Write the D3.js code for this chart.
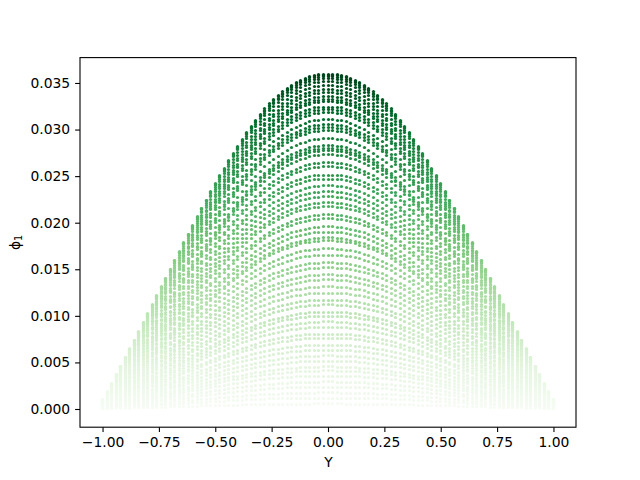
<!DOCTYPE html>
<html>
<head>
<meta charset="utf-8">
<script src="https://cdn.jsdelivr.net/npm/d3@7"></script>
<style>
html,body{margin:0;padding:0;background:#fff}
svg{display:block}
text{font-family:"DejaVu Sans",sans-serif;fill:#000}
</style>
</head>
<body>
<svg id="c" width="640" height="480"></svg>
<script>
// Height of the uppermost point in each column, Y = -1.00 to 0.00 in steps of 0.02 (mirrored for Y > 0)
const topOfColumn = [
0.00102,0.00184,0.00274,0.00370,0.00460,0.00556,0.00645,0.00739,0.00828,0.00929,
0.01021,0.01120,0.01214,0.01311,0.01404,0.01501,0.01598,0.01691,0.01788,0.01877,
0.01970,0.02063,0.02156,0.02242,0.02331,0.02417,0.02503,0.02585,0.02664,0.02746,
0.02822,0.02897,0.02969,0.03036,0.03101,0.03165,0.03222,0.03276,0.03323,0.03366,
0.03405,0.03444,0.03477,0.03506,0.03530,0.03552,0.03570,0.03584,0.03591,0.03595,
0.03595];
// Values of the rows of points read along the centre column, Y = 0
const centreRows = [
0.03595,0.03581,0.03565,0.03543,0.03511,0.03468,0.03425,0.03393,0.03350,0.03318,
0.03296,0.03242,0.03210,0.03178,0.03103,0.03049,0.03017,0.02985,0.02899,0.02824,
0.02792,0.02770,0.02727,0.02641,0.02598,0.02512,0.02469,0.02394,0.02330,0.02276,
0.02212,0.02169,0.02083,0.02040,0.01954,0.01900,0.01836,0.01804,0.01718,0.01653,
0.01568,0.01514,0.01439,0.01385,0.01310,0.01245,0.01170,0.01117,0.01041,0.00998,
0.00934,0.00880,0.00805,0.00762,0.00687,0.00633,0.00569,0.00515,0.00451,0.00408,
0.00354,0.00290,0.00236,0.00172,0.00118,0.00054];
const xTicks = [-1,-0.75,-0.5,-0.25,0,0.25,0.5,0.75,1];
const yTicks = [0,0.005,0.01,0.015,0.02,0.025,0.03,0.035];
const greens = ["#f7fcf5","#e5f5e0","#c7e9c0","#a1d99b","#74c476","#41ab5d","#238b45","#006d2c","#00441b"];

const fullColumns = topOfColumn.concat(topOfColumn.slice(0,-1).reverse());
const peak = d3.max(topOfColumn);
const points = [];
centreRows.slice().reverse().forEach(row => {
  fullColumns.forEach((t,i) => {
    points.push({y:-1+i*0.02, phi:t*row/peak});
  });
});

const L=80,R=576,T=57.6,B=427.2;
const x=d3.scaleLinear().domain([-1.1,1.1]).range([L,R]);
const yMin=-0.00015,yMax=0.03592,pad=(yMax-yMin)*0.05;
const y=d3.scaleLinear().domain([yMin-pad,yMax+pad]).range([B,T]);
const color=d3.scaleLinear()
  .domain(greens.map((_,i)=>peak*i/(greens.length-1)))
  .range(greens).clamp(true);
const snap=v=>Math.floor(v)+0.5;

const svg=d3.select("#c");
svg.append("g").selectAll("circle").data(points).join("circle")
  .attr("cx",d=>snap(x(d.y))).attr("cy",d=>snap(y(d.phi))).attr("r",1.6)
  .attr("fill",d=>color(d.phi));

svg.append("rect").attr("x",L).attr("y",T).attr("width",R-L).attr("height",B-T)
  .attr("fill","none").attr("stroke","#000").attr("stroke-width",1.1);

const gx=svg.append("g").attr("transform",`translate(0,${B})`)
  .call(d3.axisBottom(x).tickValues(xTicks).tickFormat(d3.format(".2f")).tickSize(4.9).tickPadding(4.9));
const gy=svg.append("g").attr("transform",`translate(${L},0)`)
  .call(d3.axisLeft(y).tickValues(yTicks).tickFormat(d3.format(".3f")).tickSize(4.9).tickPadding(4.9));
[gx,gy].forEach(g=>{
  g.select(".domain").remove();
  g.selectAll("line").attr("stroke","#000").attr("stroke-width",1.1);
  g.selectAll("text").attr("font-size",13.89).attr("font-family",'"DejaVu Sans"').attr("fill","#000");
});
gx.selectAll("text").text(d=>d3.format(".2f")(d).replace("-","\u2212"));

svg.append("text").attr("x",(L+R)/2+0.5).attr("y",467).attr("text-anchor","middle")
  .attr("font-size",13.89).text("Y");
const yl=svg.append("text").attr("transform",`translate(20,${(T+B)/2}) rotate(-90)`)
  .attr("text-anchor","middle").attr("font-size",13.89);
yl.append("tspan").text("\u03D5");
yl.append("tspan").attr("dy",2).attr("font-size",9.7).text("1");
</script>
</body>
</html>
